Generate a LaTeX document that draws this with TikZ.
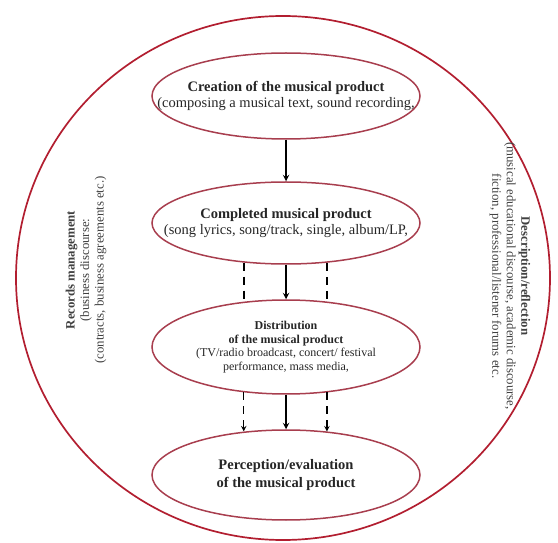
\documentclass[tikz,border=0pt]{standalone}
\usepackage{fontspec}
\setmainfont{Liberation Serif}
\usepackage{xcolor}
\usepackage{tikz}
\usetikzlibrary{shapes.geometric}
\definecolor{ringred}{RGB}{178,30,48}
\definecolor{ovalred}{RGB}{168,62,78}

\begin{document}
\begin{tikzpicture}
    [x=1pt,y=1pt,
    ring/.style={shape=ellipse,draw=ringred,line width=1.7pt,inner sep=0pt},
    oval/.style={shape=ellipse,draw=ovalred,line width=1.5pt,inner sep=0pt,minimum width=268pt},
    txt/.style={align=center,font=\fontsize{14.5}{16}\selectfont,text=black!85},
    side/.style={align=center,font=\fontsize{12.8}{14.5}\selectfont,text=black!75},
    arc/.style={->,>=stealth,line width=1.8pt},
    dashline/.style={dashed,dash pattern=on 8pt off 6pt,line width=2pt},
    dasharc/.style={->,>=stealth,dashed,dash pattern=on 8pt off 6pt,line width=1.4pt}]

    \useasboundingbox (0,0) rectangle (558,542);

    \node (frame) [ring,minimum width=534pt,minimum height=524pt] at (283,264) {};

    \node (create) [oval,minimum height=86pt] at (286,446) {};
    \node (complete) [oval,minimum height=82pt] at (286,319) {};
    \node (distrib) [oval,minimum height=94pt] at (286,195) {};
    \node (percept) [oval,minimum height=90pt] at (286,67) {};

    \node (createtxt) [txt] at (create) {\textbf{Creation of the musical product}\\(composing a musical text, sound recording,};
    \node (completetxt) [txt] at (complete) {\textbf{Completed musical product}\\(song lyrics, song/track, single, album/LP,};
    \node (distribtxt) [txt,font=\fontsize{12}{13.5}\selectfont] at (distrib) {\textbf{Distribution}\\\textbf{of the musical product}\\(TV/radio broadcast, concert/ festival\\performance, mass media,};
    \node (percepttxt) [txt,font=\fontsize{14.5}{18}\selectfont] at (percept) {\textbf{Perception/evaluation}\\\textbf{of the musical product}};

    \node (records) [side,rotate=90] at (86,272) {\textbf{Records management}\\(business discourse:\\(contracts, business agreements etc.)};
    \node (descr) [side,rotate=-90] at (510,266) {\textbf{Description/reflection}\\(musical educational discourse, academic discourse,\\fiction, professional/listener forums etc.};

    \draw [arc] (create) -- (complete);
    \draw [arc] (complete) -- (distrib);
    \draw [arc] (distrib) -- (percept);

    \draw [dashline] (complete.223.6) -- (complete.223.6 |- distrib.132.5);
    \draw [dashline] (complete.316.4) -- (complete.316.4 |- distrib.47.5);
    \draw [dasharc] (distrib.227.5) -- (distrib.227.5 |- percept.133.7);
    \draw [dasharc] (distrib.312.5) -- (distrib.312.5 |- percept.46.3);

  \end{tikzpicture}
\end{document}
